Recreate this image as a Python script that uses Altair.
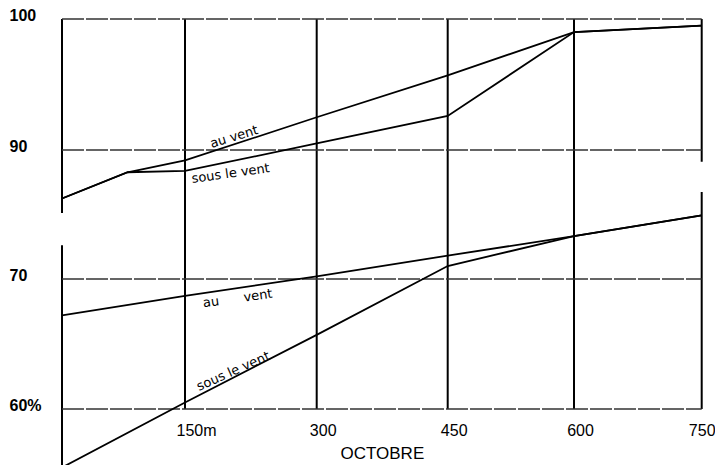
import altair as alt
import pandas as pd

# ---- data (distance in m, humidity %) ----
dist_haut = [0, 80, 150, 300, 450, 600, 750]
au_vent_haut = [86.3, 88.3, 89.2, 92.5, 95.7, 99.0, 99.5]
sous_vent_haut = [86.3, 88.3, 88.4, 90.5, 92.6, 99.0, 99.5]

dist_bas = [0, 150, 300, 450, 600, 750]
au_vent_bas = [67.2, 68.7, 70.2, 71.8, 73.3, 74.9]
sous_vent_bas = [55.5, 60.5, 65.7, 71.0, 73.3, 74.9]

x_ticks = [150, 300, 450, 600, 750]
y_ticks = [60, 70, 90, 100]

# grid / frame segments (data units)
grid_x = [0, 0, 150, 300, 450, 600, 750, 750, 0, 0, 0, 0]
grid_x2 = [0, 0, 150, 300, 450, 600, 750, 750, 750, 750, 750, 750]
grid_y = [100, 72.6, 60, 60, 60, 60, 100, 76.7, 100, 90, 70, 60]
grid_y2 = [85.2, 55.3, 100, 100, 100, 100, 89.1, 60, 100, 90, 70, 60]
grid_kind = ["v"] * 8 + ["h"] * 4

# curve labels
NB = "\u00a0"
lab_text = ["au vent", "sous le vent", "au" + NB * 6 + "vent", "sous le vent"]
lab_x = [206, 202, 210, 205]
lab_y = [91.0, 88.2, 68.5, 62.9]
lab_angle = [343, 352, 352, 336]

rows = []
for d, v in zip(dist_haut, au_vent_haut):
    rows.append({"d": d, "v": v, "serie": "au vent (haut)"})
for d, v in zip(dist_haut, sous_vent_haut):
    rows.append({"d": d, "v": v, "serie": "sous le vent (haut)"})
for d, v in zip(dist_bas, au_vent_bas):
    rows.append({"d": d, "v": v, "serie": "au vent (bas)"})
for d, v in zip(dist_bas, sous_vent_bas):
    rows.append({"d": d, "v": v, "serie": "sous le vent (bas)"})
lines_df = pd.DataFrame(rows)

grid_df = pd.DataFrame({"x": grid_x, "x2": grid_x2, "y": grid_y, "y2": grid_y2, "kind": grid_kind})
lab_df = pd.DataFrame({"t": lab_text, "x": lab_x, "y": lab_y, "a": lab_angle})

FONT = "Liberation Sans"

xscale = alt.Scale(domain=[0, 150, 300, 450, 600, 750],
                   range=[0, 123, 254.7, 385.7, 512, 639.7], nice=False, zero=False)
# broken axis: lower block (55-75) and upper block (85-100)
yscale = alt.Scale(domain=[54, 79, 81, 100],
                   range=[468, 143, 248.9, 0], nice=False, zero=False)

xaxis = alt.Axis(values=x_ticks, labelExpr="datum.value == 150 ? '150m' : datum.value",
                 domain=False, ticks=False, grid=False, labelFont=FONT, labelFontSize=16,
                 labelColor="black", labelPadding=13,
                 labelOffset={"condition": [{"test": "datum.value == 750", "value": 0},
                                            {"test": "datum.value == 150", "value": 11}],
                              "value": 6},
                 title="OCTOBRE", titleFont=FONT, titleFontSize=17, titleFontWeight="normal",
                 titleColor="black", titlePadding=7, labelFlush=False)
yaxis = alt.Axis(values=y_ticks, labelExpr="datum.value == 60 ? '60%' : datum.value",
                 domain=False, ticks=False, tickSize=0, grid=False, labelFont=FONT,
                 labelFontSize=16, labelFontWeight="bold", labelColor="black",
                 labelAlign="left", labelBaseline="alphabetic", labelOffset=1,
                 labelPadding=53, title=None)

grid = alt.Chart(grid_df).mark_rule(color="black").encode(
    x=alt.X("x:Q", scale=xscale, axis=xaxis),
    x2="x2:Q",
    y=alt.Y("y:Q", scale=yscale, axis=yaxis),
    y2="y2:Q",
    strokeWidth=alt.StrokeWidth("kind:N", scale=alt.Scale(domain=["v", "h"], range=[2, 1.3]), legend=None),
    strokeDash=alt.StrokeDash("kind:N", scale=alt.Scale(domain=["v", "h"], range=[[1, 0], [22, 2]]), legend=None),
    color=alt.Color("kind:N", scale=alt.Scale(domain=["v", "h"], range=["#000000", "#333333"]), legend=None),
)

lines = alt.Chart(lines_df).mark_line(color="black", strokeWidth=1.8).encode(
    x=alt.X("d:Q", scale=xscale, axis=xaxis),
    y=alt.Y("v:Q", scale=yscale, axis=yaxis),
    detail="serie:N",
)

labels = alt.Chart(lab_df).mark_text(font="DejaVu Sans", fontSize=13, color="black").encode(
    x=alt.X("x:Q", scale=xscale, axis=xaxis),
    y=alt.Y("y:Q", scale=yscale, axis=yaxis),
    text="t:N",
    angle=alt.Angle("a:Q", scale=None),
)

chart = alt.layer(grid, lines, labels).properties(
    width=640, height=390,
    autosize=alt.AutoSizeParams(type="none"),
    padding={"left": 54, "top": 11, "right": 13, "bottom": 56},
    background="white",
).configure_view(stroke=None)

chart.save("out.html", embed_options={"renderer": "svg", "actions": False})
